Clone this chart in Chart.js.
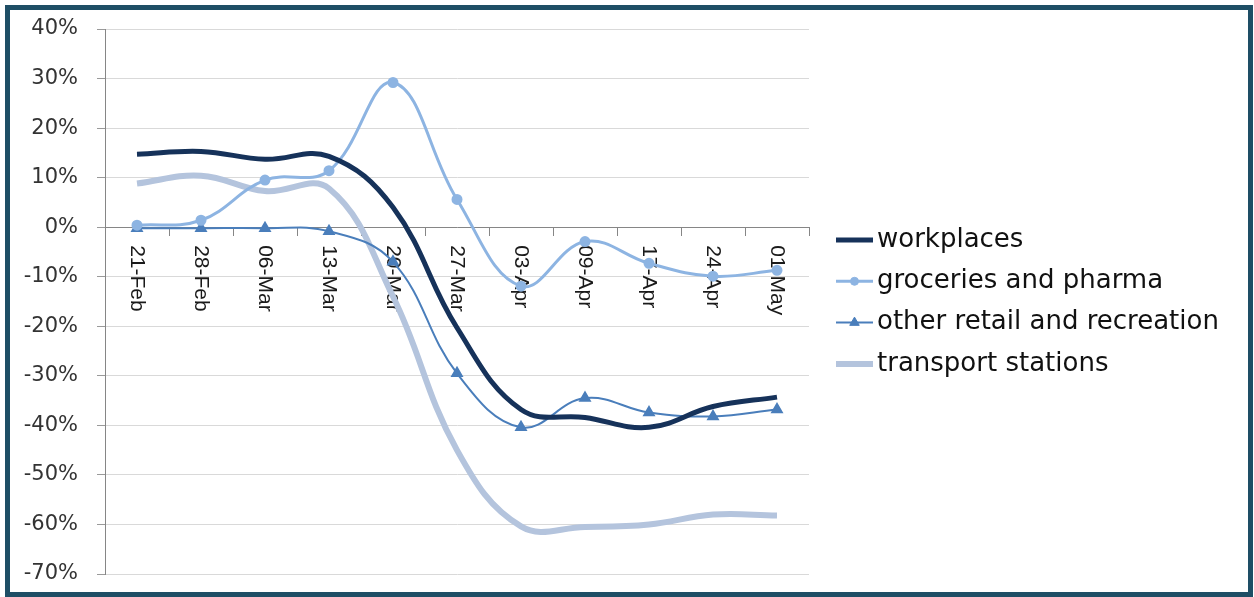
<!DOCTYPE html>
<html>
<head>
<meta charset="utf-8">
<script src="https://cdn.jsdelivr.net/npm/chart.js@4.4.0/dist/chart.umd.min.js"></script>
<style>
  body{margin:0;background:#fff;}
  #wrap{position:relative;width:1254px;height:597px;}
  #frame{position:absolute;left:5px;top:5px;width:1248px;height:592px;box-sizing:border-box;border:5px solid #1e4e65;pointer-events:none;}
</style>
</head>
<body>
<div id="wrap">
  <canvas id="myChart" width="1254" height="597"></canvas>
  <div id="frame"></div>
</div>
<script>
// weekly mobility change vs baseline, in percent
var weeks = ['21-Feb', '28-Feb', '06-Mar', '13-Mar', '20-Mar', '27-Mar', '03-Apr', '09-Apr', '17-Apr', '24-Apr', '01-May'];
var workplaces = [14.7, 15.3, 13.7, 14.3, 4.0, -20.3, -36.8, -38.4, -40.4, -36.2, -34.3];
var groceries = [0.4, 1.4, 9.5, 11.4, 29.2, 5.6, -11.9, -2.9, -7.3, -9.9, -8.7];
var retail = [-0.2, -0.2, -0.2, -0.8, -7.0, -29.5, -40.4, -34.5, -37.4, -38.2, -36.8];
var transport = [8.8, 10.4, 7.3, 7.8, -14.0, -45.0, -60.4, -60.5, -60.0, -58.0, -58.2];
var seriesNames = ['workplaces', 'groceries and pharma', 'other retail and recreation', 'transport stations'];

// x labels sit under the zero line, rotated to read downwards
const weekLabels = {
  id: 'weekLabels',
  beforeDatasetsDraw(chart) {
    const {ctx, scales: {x, y}} = chart;
    const top = y.getPixelForValue(0) + 18;
    ctx.save();
    ctx.font = '21px "Liberation Sans", Arial, sans-serif';
    ctx.fillStyle = '#1a1a1a';
    ctx.textAlign = 'left';
    ctx.textBaseline = 'middle';
    chart.data.labels.forEach((lab, i) => {
      ctx.save();
      ctx.translate(x.getPixelForValue(i), top);
      ctx.rotate(Math.PI / 2);
      ctx.fillText(lab, 0, 0);
      ctx.restore();
    });
    ctx.restore();
  }
};

// excel style legend: short line with the marker on it
const sideLegend = {
  id: 'sideLegend',
  afterDraw(chart) {
    const ctx = chart.ctx;
    ctx.save();
    chart.data.datasets.forEach((ds, i) => {
      const yy = 240 + i * 41.3;
      ctx.strokeStyle = ds.borderColor;
      ctx.lineWidth = ds.borderWidth;
      ctx.beginPath();
      ctx.moveTo(836, yy);
      ctx.lineTo(873, yy);
      ctx.stroke();
      if (ds.pointRadius > 0) {
        ctx.fillStyle = ds.borderColor;
        ctx.strokeStyle = ds.borderColor;
        ctx.lineWidth = 1;
        Chart.helpers.drawPoint(ctx, {radius: ds.pointRadius, pointStyle: ds.pointStyle, rotation: 0, borderWidth: 1}, 854.5, yy);
      }
      ctx.font = '26px "DejaVu Sans", sans-serif';
      ctx.fillStyle = '#111';
      ctx.textBaseline = 'middle';
      ctx.fillText(ds.label, 877, yy);
    });
    ctx.restore();
  }
};

var ctx = document.getElementById('myChart').getContext('2d');
var myChart = new Chart(ctx, {
  type: 'line',
  data: {
    labels: weeks,
    datasets: [
      {label: seriesNames[0], data: workplaces, borderColor: '#16325a', borderWidth: 5, pointRadius: 0, tension: 0.4},
      {label: seriesNames[1], data: groceries, borderColor: '#8db4e2', backgroundColor: '#8db4e2', borderWidth: 3,
        pointStyle: 'circle', pointRadius: 4, pointBackgroundColor: '#8db4e2', pointBorderColor: '#8db4e2', tension: 0.4},
      {label: seriesNames[2], data: retail, borderColor: '#4a7ebb', backgroundColor: '#4a7ebb', borderWidth: 2,
        pointStyle: 'triangle', pointRadius: 5.5, pointBackgroundColor: '#4a7ebb', pointBorderColor: '#4a7ebb', tension: 0.4},
      {label: seriesNames[3], data: transport, borderColor: '#b4c4dd', borderWidth: 6, pointRadius: 0, tension: 0.4}
    ]
  },
  plugins: [weekLabels, sideLegend],
  options: {
    responsive: false,
    animation: false,
    layout: {padding: {top: 29, right: 445, bottom: 23, left: 0}},
    plugins: {legend: {display: false}, tooltip: {enabled: false}},
    scales: {
      x: {
        position: {y: 0},
        offset: true,
        afterFit(s) { s.height = 0; s.paddingLeft = 0; s.paddingRight = 0; },
        grid: {offset: true, drawOnChartArea: false, drawTicks: true, tickLength: 8, color: '#868686'},
        border: {color: '#868686'},
        ticks: {display: false}
      },
      y: {
        min: -70,
        max: 40,
        afterFit(s) { s.width = 105; s.paddingTop = 0; s.paddingBottom = 0; },
        ticks: {
          stepSize: 10,
          padding: 19,
          color: '#333',
          font: {family: 'DejaVu Sans', size: 21},
          callback: v => v + '%'
        },
        grid: {color: '#d9d9d9', tickLength: 8, tickColor: '#9a9a9a'},
        border: {color: '#868686'}
      }
    }
  }
});
</script>
</body>
</html>
